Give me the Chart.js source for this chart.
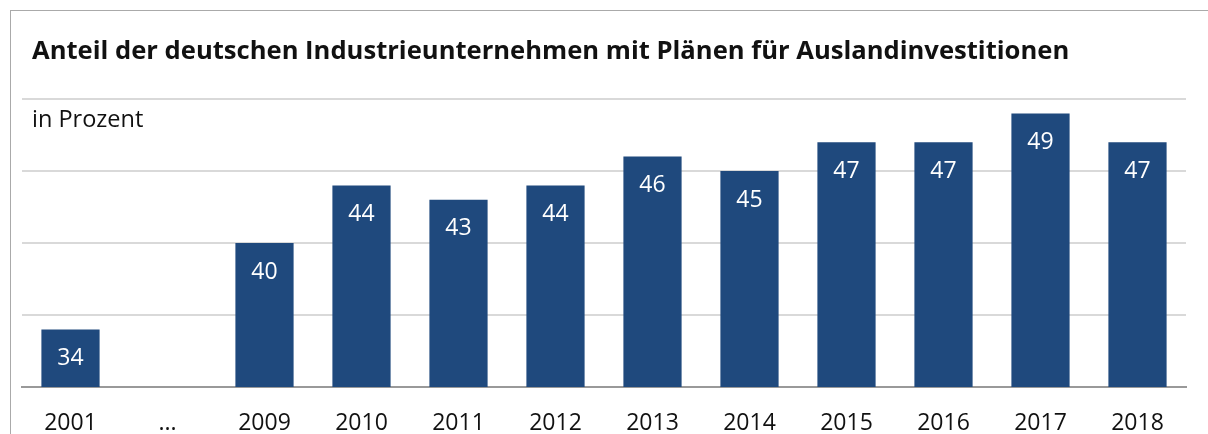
<!DOCTYPE html>
<html>
<head>
<meta charset="utf-8">
<script src="https://cdn.jsdelivr.net/npm/chart.js@4"></script>
<style>
  html, body { margin: 0; padding: 0; background: #fff; }
  #wrap { position: relative; width: 1208px; height: 434px; overflow: hidden; font-family: "Open Sans", sans-serif; }
  #frame { position: absolute; left: 10px; top: 10px; width: 1300px; height: 500px; border-left: 1px solid #aaa; border-top: 1px solid #aaa; }
  #title { position: absolute; left: 32px; top: 32px; font-size: 25.6px; font-weight: bold; color: #111; white-space: nowrap; }
  #unit { position: absolute; left: 32px; top: 102px; font-size: 23.5px; color: #111; white-space: nowrap; }
  canvas { position: absolute; left: 0; top: 0; }
</style>
</head>
<body>
<div id="wrap">
  <div id="frame"></div>
  <canvas id="chartBarGraph" width="1208" height="434"></canvas>
  <div id="title">Anteil der deutschen Industrieunternehmen mit Plänen für Auslandinvestitionen</div>
  <div id="unit">in Prozent</div>
</div>
<script>
// data
var years = ["2001", "...", "2009", "2010", "2011", "2012", "2013", "2014", "2015", "2016", "2017", "2018"];
var shares = [34, null, 40, 44, 43, 44, 46, 45, 47, 47, 49, 47];
var yTicks = [30, 35, 40, 45, 50];

// white value labels inside the bars
var barLabels = {
  id: 'barLabels',
  afterDatasetsDraw: function (chart) {
    var ctx = chart.ctx;
    var meta = chart.getDatasetMeta(0);
    ctx.save();
    ctx.fillStyle = '#fff';
    ctx.font = '23px "Open Sans", sans-serif';
    ctx.textAlign = 'center';
    ctx.textBaseline = 'middle';
    meta.data.forEach(function (bar, i) {
      if (shares[i] == null) return;
      ctx.fillText(String(shares[i]), bar.x, bar.y + 29);
    });
    ctx.restore();
  }
};

document.addEventListener('DOMContentLoaded', function () {
  new Chart(document.getElementById("chartBarGraph"), {
    type: "bar",
    data: {
      labels: years,
      datasets: [{
        label: "Anteil",
        data: shares,
        backgroundColor: '#1f497d',
        categoryPercentage: 0.6,
        barPercentage: 1.0
      }]
    },
    options: {
      responsive: false,
      animation: false,
      layout: { padding: { left: 22, right: 22, top: 99, bottom: 0 } },
      plugins: { legend: { display: false }, tooltip: { enabled: false } },
      scales: {
        x: {
          afterFit: function (axis) { axis.height = 47; },
          grid: { display: false, drawTicks: false, tickLength: 0 },
          border: { display: true, color: '#999', width: 2 },
          ticks: { color: '#111', font: { family: 'Open Sans', size: 23 }, padding: 23, maxRotation: 0 }
        },
        y: {
          min: 30,
          max: 50,
          afterBuildTicks: function (axis) {
            axis.ticks = yTicks.map(function (v) { return { value: v }; });
          },
          afterFit: function (axis) { axis.width = 0; },
          ticks: { display: false },
          border: { display: false },
          grid: { color: '#d9d9d9', lineWidth: 2, drawTicks: false }
        }
      }
    },
    plugins: [barLabels]
  });
});
</script>
</body>
</html>
